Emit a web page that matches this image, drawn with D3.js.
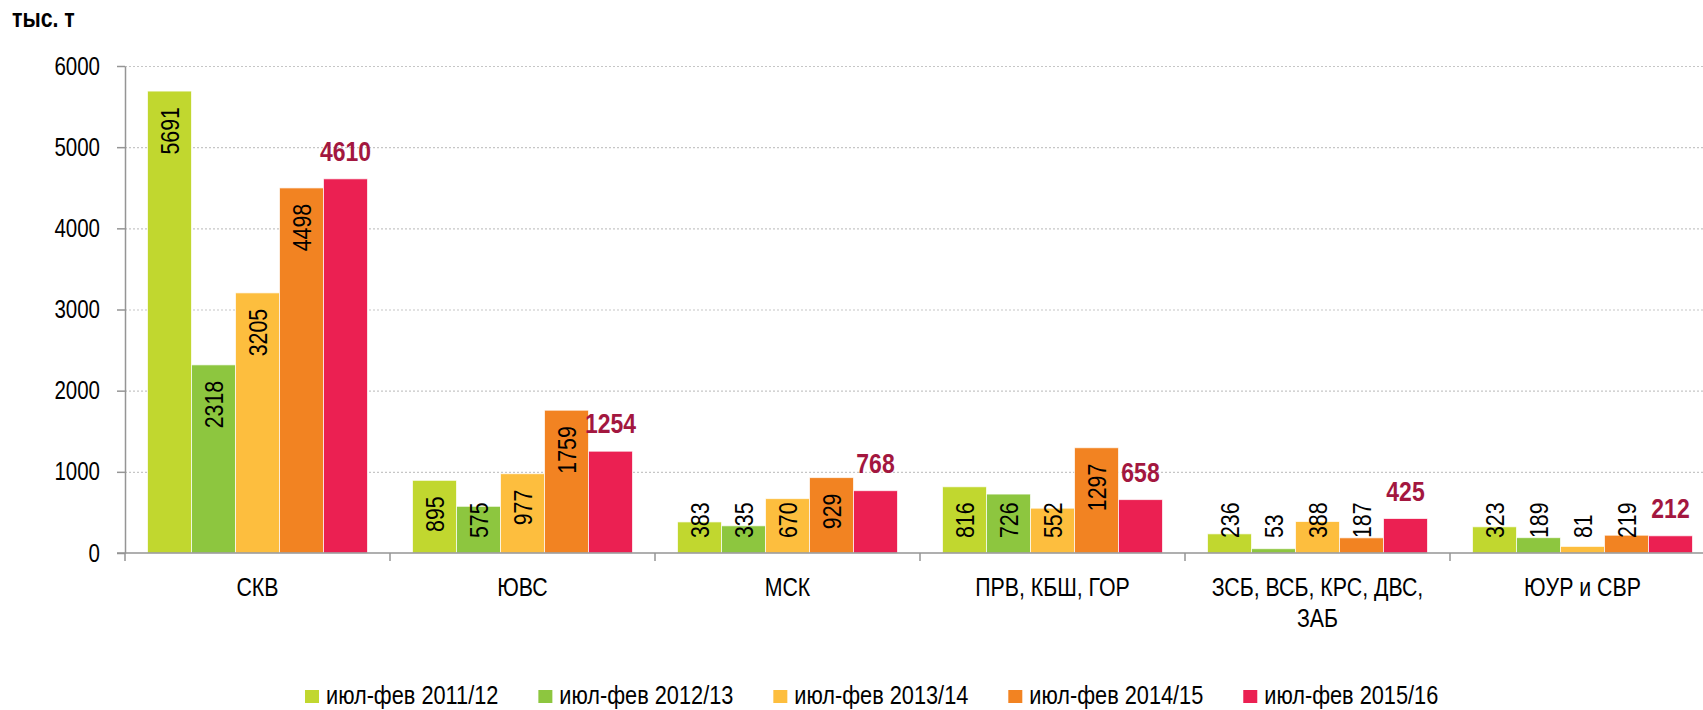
<!DOCTYPE html>
<html>
<head>
<meta charset="utf-8">
<title>Bars</title>
<script src="https://cdnjs.cloudflare.com/ajax/libs/d3/7.8.5/d3.min.js"></script>
<style>
  body { margin: 0; background: #fff; }
  svg { display: block; }
  text { font-family: 'Liberation Sans', Arial, sans-serif; fill: #000; }
</style>
</head>
<body>
<div id="chart"></div>
<script>
// data
var categories = ["СКВ", "ЮВС", "МСК", "ПРВ, КБШ, ГОР", "ЗСБ, ВСБ, КРС, ДВС, ЗАБ", "ЮУР и СВР"];
var seriesNames = ["июл-фев 2011/12", "июл-фев 2012/13", "июл-фев 2013/14", "июл-фев 2014/15", "июл-фев 2015/16"];
var v2011 = [5691, 895, 383, 816, 236, 323];
var v2012 = [2318, 575, 335, 726, 53, 189];
var v2013 = [3205, 977, 670, 552, 388, 81];
var v2014 = [4498, 1759, 929, 1297, 187, 219];
var v2015 = [4610, 1254, 768, 658, 425, 212];
var yTicks = [0, 1000, 2000, 3000, 4000, 5000, 6000];
var colors = ["#C1D72F", "#8DC63F", "#FDBE3E", "#F28322", "#EB2052"];
var unitLabel = "тыс. т";

var allSeries = [v2011, v2012, v2013, v2014, v2015];

var W = 1703, H = 710;
var mLeft = 125, mBottom = 553, mTop = 66;
var band = 265;

// no narrow font installed, so squeeze text horizontally (like Arial Narrow)
function narrow(node) {
  var len = node.getComputedTextLength();
  d3.select(node).attr("textLength", len * 0.82).attr("lengthAdjust", "spacingAndGlyphs");
  return len * 0.82;
}

var svg = d3.select("#chart").append("svg")
  .attr("width", W).attr("height", H);

var x0 = d3.scaleBand().domain(categories).range([mLeft, mLeft + band * categories.length]);
var x1 = d3.scaleBand().domain(d3.range(seriesNames.length)).range([22.5, band - 22.5]);
var y = d3.scaleLinear().domain([0, 6000]).range([mBottom, mTop]);

// grid
var grid = svg.append("g").attr("transform", "translate(" + mLeft + ",0)")
  .call(d3.axisLeft(y).tickValues(yTicks.slice(1)).tickSize(-(W - mLeft)).tickFormat(""));
grid.select(".domain").remove();
grid.selectAll(".tick line").attr("stroke", "#c6c6c6").attr("stroke-dasharray", "2,2").attr("stroke-width", 1.2);

// y axis
var yAxis = svg.append("g").attr("transform", "translate(" + mLeft + ",0)")
  .call(d3.axisLeft(y).tickValues(yTicks).tickFormat(d3.format("d")).tickSize(8).tickPadding(17).tickSizeOuter(0));
yAxis.select(".domain").attr("stroke", "#959595").attr("stroke-width", 1.5);
yAxis.selectAll(".tick line").attr("stroke", "#959595").attr("stroke-width", 1.5);
yAxis.selectAll(".tick text").attr("font-size", 25).attr("font-family", null).attr("fill", "#000")
  .each(function() { narrow(this); });

// bars
var groups = svg.selectAll("g.cat").data(categories).enter().append("g")
  .attr("class", "cat")
  .attr("transform", function(d) { return "translate(" + x0(d) + ",0)"; });

groups.selectAll("rect").data(function(d, i) {
    return allSeries.map(function(s, k) { return {k: k, v: s[i]}; });
  }).enter().append("rect")
  .attr("x", function(d) { return x1(d.k); })
  .attr("width", x1.bandwidth())
  .attr("y", function(d) { return y(d.v); })
  .attr("height", function(d) { return mBottom - y(d.v); })
  .attr("fill", function(d) { return colors[d.k]; })
  .attr("stroke", "#fff").attr("stroke-width", 1).attr("stroke-opacity", 0.7);

// x axis
svg.append("line").attr("x1", mLeft - 8).attr("x2", W).attr("y1", mBottom).attr("y2", mBottom)
  .attr("stroke", "#959595").attr("stroke-width", 1.5);
svg.selectAll("line.sep").data(d3.range(categories.length + 1)).enter().append("line")
  .attr("class", "sep")
  .attr("x1", function(i) { return mLeft + band * i; })
  .attr("x2", function(i) { return mLeft + band * i; })
  .attr("y1", mBottom).attr("y2", mBottom + 8)
  .attr("stroke", "#959595").attr("stroke-width", 1.5);

// category labels, wrapped
groups.each(function(name) {
  var g = d3.select(this);
  var t = g.append("text").attr("text-anchor", "middle").attr("font-size", 26)
    .attr("x", band / 2).attr("y", 596);
  var words = name.split(" "), line = [], lines = [];
  var probe = t.append("tspan");
  words.forEach(function(w) {
    line.push(w);
    probe.text(line.join(" "));
    if (probe.node().getComputedTextLength() * 0.82 > 250 && line.length > 1) {
      line.pop();
      lines.push(line.join(" "));
      line = [w];
    }
  });
  lines.push(line.join(" "));
  probe.remove();
  lines.forEach(function(l, i) {
    var ts = t.append("tspan").attr("x", band / 2).attr("dy", i ? 31 : 0).text(l);
    narrow(ts.node());
  });
});

// value labels
groups.each(function(name, ci) {
  var g = d3.select(this);
  allSeries.forEach(function(s, k) {
    var v = s[ci];
    var cx = x1(k) + x1.bandwidth() / 2;
    if (k < 4) {
      var t = g.append("text").attr("font-size", 26).attr("text-anchor", "end")
        .attr("dominant-baseline", "central").text(v);
      var len = narrow(t.node());
      var yy = Math.min(y(v) + 16, mBottom - 15 - len);
      t.attr("transform", "translate(" + cx + "," + yy + ") rotate(-90)");
    } else {
      var r = g.append("text").attr("font-size", 28).attr("font-weight", "bold")
        .attr("text-anchor", "middle").attr("x", cx).attr("y", y(v) - 18)
        .style("fill", "#A3173F").text(v);
      narrow(r.node());
    }
  });
});

// unit
var u = svg.append("text").attr("x", 12).attr("y", 27).attr("font-size", 26).attr("font-weight", "bold").text(unitLabel);
narrow(u.node());

// legend
var leg = svg.append("g").attr("transform", "translate(305,704)");
var lx = 0;
seriesNames.forEach(function(n, k) {
  var it = leg.append("g").attr("transform", "translate(" + lx + ",0)");
  it.append("rect").attr("x", 0).attr("y", -14).attr("width", 14).attr("height", 13).attr("fill", colors[k]);
  var t = it.append("text").attr("x", 21).attr("y", 0)
    .attr("font-size", 26.5).text(n);
  lx += 21 + narrow(t.node()) + 40;
});
</script>
</body>
</html>
